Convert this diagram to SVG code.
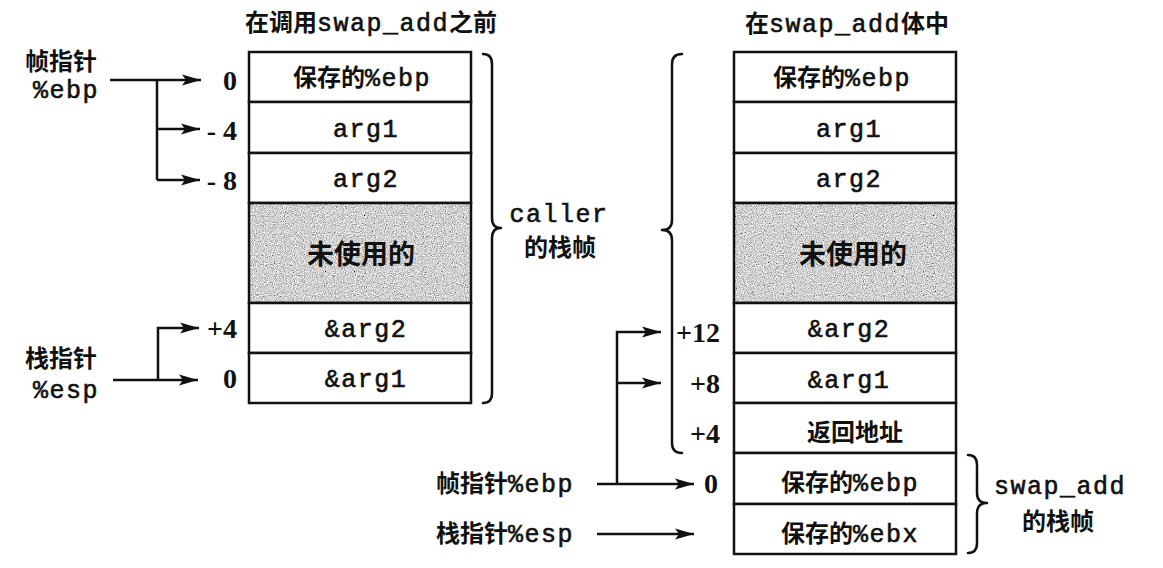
<svg xmlns="http://www.w3.org/2000/svg" width="1163" height="568" viewBox="0 0 1163 568">
<style>
.c{font-family:"Noto Sans CJK SC","Noto Sans",sans-serif;font-size:24px;font-weight:bold;fill:#111}
.m{font-family:"Liberation Mono","DejaVu Sans Mono",monospace;font-size:25px;letter-spacing:1.5px;font-weight:normal;fill:#111;stroke:#111;stroke-width:0.6}
.n{font-family:"Liberation Serif","DejaVu Serif",serif;font-size:28px;font-weight:bold;fill:#111}
.cell{fill:#fff;stroke:#111;stroke-width:2.5}
.gray{fill:#a8a8a8}
.frame{fill:none;stroke:#111;stroke-width:2.5}
.ln{fill:none;stroke:#111;stroke-width:2.5}
.br{fill:none;stroke:#111;stroke-width:2.5;stroke-linecap:round;stroke-linejoin:round}
</style>
<defs>
<marker id="ah" markerUnits="userSpaceOnUse" markerWidth="20" markerHeight="12" refX="19" refY="6" orient="auto">
<path d="M0,0.5 L19,6 L0,11.5 L4,6 Z" fill="#111"/>
</marker>
<filter id="grain" x="0" y="0" width="100%" height="100%">
<feTurbulence type="fractalNoise" baseFrequency="0.9" numOctaves="2" seed="4" result="t"/>
<feColorMatrix in="t" type="matrix" values="0.33 0.33 0.33 0 0  0.33 0.33 0.33 0 0  0.33 0.33 0.33 0 0  0 0 0 0 1" result="g"/>
<feComponentTransfer in="g" result="s">
<feFuncR type="linear" slope="2.4" intercept="-0.55"/>
<feFuncG type="linear" slope="2.4" intercept="-0.55"/>
<feFuncB type="linear" slope="2.4" intercept="-0.55"/>
</feComponentTransfer>
<feComposite in="s" in2="SourceGraphic" operator="in"/>
</filter>
</defs>
<rect width="1163" height="568" fill="#fff"/>

<g id="title-left"><text x="371" y="31" text-anchor="middle" class="c">在调用<tspan class="m">swap_add</tspan>之前</text></g>
<g id="title-right"><text x="847" y="32" text-anchor="middle" class="c">在<tspan class="m">swap_add</tspan>体中</text></g>

<g id="left-stack">
<rect class="cell" x="249" y="52" width="222" height="50"/>
<rect class="cell" x="249" y="102" width="222" height="51"/>
<rect class="cell" x="249" y="153" width="222" height="50"/>
<rect class="gray" x="249" y="203" width="222" height="100" filter="url(#grain)"/>
<rect class="frame" x="249" y="203" width="222" height="100"/>
<rect class="cell" x="249" y="303" width="222" height="50"/>
<rect class="cell" x="249" y="353" width="222" height="50"/>
<text x="362" y="86" text-anchor="middle" class="c">保存的<tspan class="m">%ebp</tspan></text>
<text x="366" y="137" text-anchor="middle" class="m">arg1</text>
<text x="366" y="187" text-anchor="middle" class="m">arg2</text>
<text x="361" y="264" text-anchor="middle" class="c" style="font-size:27px">未使用的</text>
<text x="366" y="337" text-anchor="middle" class="m">&amp;arg2</text>
<text x="366" y="387" text-anchor="middle" class="m">&amp;arg1</text>
</g>

<g id="right-stack">
<rect class="cell" x="734" y="52" width="222" height="50"/>
<rect class="cell" x="734" y="102" width="222" height="51"/>
<rect class="cell" x="734" y="153" width="222" height="50"/>
<rect class="gray" x="734" y="203" width="222" height="100" filter="url(#grain)"/>
<rect class="frame" x="734" y="203" width="222" height="100"/>
<rect class="cell" x="734" y="303" width="222" height="50"/>
<rect class="cell" x="734" y="353" width="222" height="50"/>
<rect class="cell" x="734" y="403" width="222" height="50"/>
<rect class="cell" x="734" y="453" width="222" height="51"/>
<rect class="cell" x="734" y="504" width="222" height="50"/>
<text x="842" y="86" text-anchor="middle" class="c">保存的<tspan class="m">%ebp</tspan></text>
<text x="849" y="137" text-anchor="middle" class="m">arg1</text>
<text x="849" y="187" text-anchor="middle" class="m">arg2</text>
<text x="853" y="264" text-anchor="middle" class="c" style="font-size:27px">未使用的</text>
<text x="849" y="337" text-anchor="middle" class="m">&amp;arg2</text>
<text x="849" y="388" text-anchor="middle" class="m">&amp;arg1</text>
<text x="855" y="441" text-anchor="middle" class="c">返回地址</text>
<text x="850" y="491" text-anchor="middle" class="c">保存的<tspan class="m">%ebp</tspan></text>
<text x="850" y="542" text-anchor="middle" class="c">保存的<tspan class="m">%ebx</tspan></text>
</g>

<g id="left-offsets">
<text x="237" y="90" text-anchor="end" class="n">0</text>
<text x="237" y="140" text-anchor="end" class="n">- 4</text>
<text x="237" y="190" text-anchor="end" class="n">- 8</text>
<text x="237" y="338" text-anchor="end" class="n">+4</text>
<text x="237" y="388" text-anchor="end" class="n">0</text>
</g>

<g id="right-offsets">
<text x="720" y="342" text-anchor="end" class="n">+12</text>
<text x="720" y="393" text-anchor="end" class="n">+8</text>
<text x="720" y="443" text-anchor="end" class="n">+4</text>
<text x="718" y="493" text-anchor="end" class="n">0</text>
</g>

<g id="left-frame-pointer">
<text x="61" y="70" text-anchor="middle" class="c">帧指针</text>
<text x="66" y="98" text-anchor="middle" class="m">%ebp</text>
</g>
<g id="left-stack-pointer">
<text x="61" y="367" text-anchor="middle" class="c">栈指针</text>
<text x="66" y="398" text-anchor="middle" class="m">%esp</text>
</g>
<g id="right-frame-pointer"><text x="505" y="492" text-anchor="middle" class="c">帧指针<tspan class="m">%ebp</tspan></text></g>
<g id="right-stack-pointer"><text x="505" y="542" text-anchor="middle" class="c">栈指针<tspan class="m">%esp</tspan></text></g>

<g id="caller-frame">
<path class="br" d="M483,54 Q492,54 492,64 L492,218 Q492,228 501,228 Q492,228 492,238 L492,393 Q492,403 483,403"/>
<text x="559" y="222" text-anchor="middle" class="m">caller</text>
<text x="560" y="256" text-anchor="middle" class="c">的栈帧</text>
</g>
<g id="caller-frame-right">
<path class="br" d="M682,54 Q672,54 672,64 L672,220 Q672,230 662,230 Q672,230 672,240 L672,443 Q672,453 682,453"/>
</g>
<g id="swap-add-frame">
<path class="br" d="M968,455 Q977,455 977,465 L977,493 Q977,503 987,503 Q977,503 977,513 L977,543 Q977,553 968,553"/>
<text x="1060" y="494" text-anchor="middle" class="m">swap_add</text>
<text x="1058" y="530" text-anchor="middle" class="c">的栈帧</text>
</g>

<g id="connectors">
<path class="ln" d="M110,80 L201,80" marker-end="url(#ah)"/>
<path class="ln" d="M157,80 L157,180"/>
<path class="ln" d="M157,129 L200,129" marker-end="url(#ah)"/>
<path class="ln" d="M157,180 L200,180" marker-end="url(#ah)"/>
<path class="ln" d="M113,380 L198,380" marker-end="url(#ah)"/>
<path class="ln" d="M158,380 L158,328 L199,328" marker-end="url(#ah)"/>
<path class="ln" d="M597,484 L694,484" marker-end="url(#ah)"/>
<path class="ln" d="M617,484 L617,332 L661,332" marker-end="url(#ah)"/>
<path class="ln" d="M617,383 L661,383" marker-end="url(#ah)"/>
<path class="ln" d="M597,534 L694,534" marker-end="url(#ah)"/>
</g>
</svg>
